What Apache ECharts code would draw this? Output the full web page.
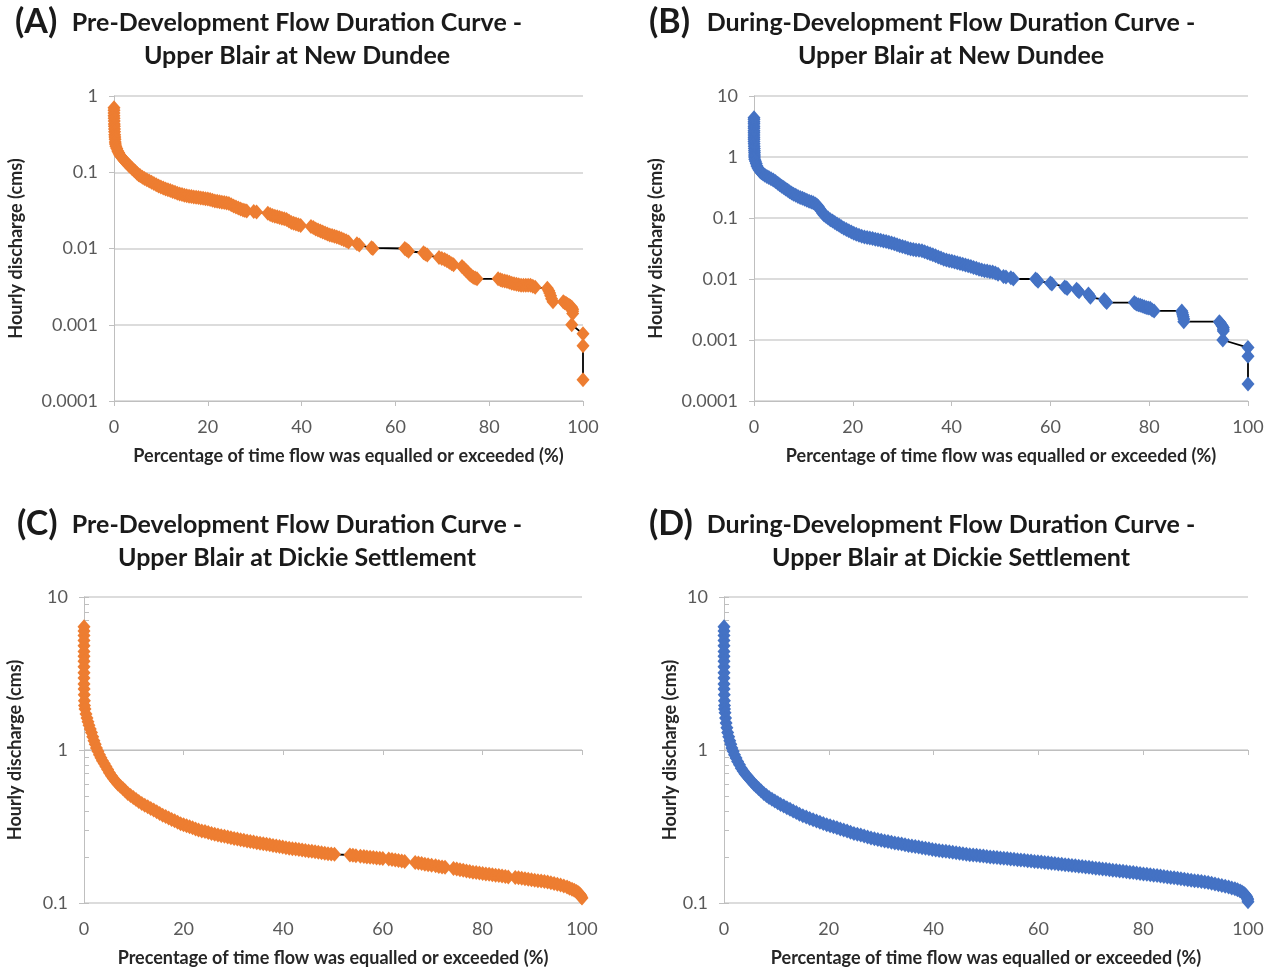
<!DOCTYPE html>
<html><head><meta charset="utf-8">
<script src="https://cdn.jsdelivr.net/npm/echarts@6/dist/echarts.min.js"></script>
<style>html,body{margin:0;padding:0;background:#fff}#c{width:1275px;height:968px}</style>
</head><body><div id="c"></div>
<script>
// ---------- DATA ----------
const aX = [0,0,0,0,0.02,0.04,0.06,0.08,0.1,0.12,0.15,0.18,0.22,0.26,0.3,0.4,0.6,0.8,1.0,1.2,1.45,1.7,2.0,2.3,2.6,2.9,3.2,3.5,3.85,4.2,4.55,4.9,5.25,5.6,6.05,6.5,7.0,7.5,8.0,8.5,9.0,9.5,10.0,10.5,11.0,11.5,12.0,12.5,13.0,13.5,14.0,14.5,15.0,15.5,16.0,16.5,17.0,17.5,18.0,18.5,19.0,19.5,20.0,20.5,21.0,21.5,22.0,22.5,23.0,23.5,24.0,24.5,25.0,25.5,26.0,26.5,27.0,27.5,27.9,28.3,29.8,30.4,32.8,33.3,33.8,34.3,34.8,35.3,35.8,36.3,36.8,37.3,37.8,38.3,38.8,39.3,39.8,42.0,42.5,43.0,43.5,44.0,44.5,45.0,45.5,46.0,46.5,47.0,47.5,48.0,48.5,49.0,49.5,50.0,51.8,52.3,54.9,55.2,62.0,62.4,62.8,66.0,66.4,66.8,69.3,69.9,70.5,71.0,71.5,72.0,72.4,74.2,74.6,75.0,75.4,75.8,76.2,76.6,77.0,77.4,81.9,82.4,82.8,83.3,83.8,84.3,84.8,85.3,85.8,86.3,86.8,87.3,87.8,88.3,88.8,89.3,89.8,92.4,92.7,92.9,93.1,93.3,93.6,95.8,96.1,96.4,96.7,97.0,97.3,97.6,97.8,97.8,97.8,97.6,100,100,100];
const aY = [0.70,0.65,0.60,0.55,0.51,0.47,0.43,0.40,0.37,0.34,0.31,0.29,0.27,0.25,0.235,0.22,0.205,0.19,0.18,0.17,0.162,0.155,0.147,0.14,0.134,0.128,0.123,0.118,0.112,0.107,0.102,0.097,0.093,0.09,0.086,0.083,0.08,0.077,0.074,0.071,0.0685,0.066,0.064,0.062,0.0605,0.059,0.0575,0.056,0.0545,0.053,0.052,0.051,0.05,0.049,0.0485,0.048,0.0475,0.047,0.0465,0.046,0.0455,0.045,0.0445,0.044,0.043,0.042,0.0415,0.041,0.0405,0.04,0.0395,0.039,0.0375,0.036,0.035,0.034,0.033,0.032,0.0315,0.031,0.0305,0.030,0.029,0.028,0.027,0.0265,0.026,0.0255,0.025,0.0245,0.024,0.023,0.022,0.0215,0.021,0.0205,0.020,0.0195,0.0188,0.018,0.0175,0.017,0.0165,0.016,0.0155,0.015,0.0148,0.0145,0.0141,0.0138,0.0134,0.013,0.0126,0.0122,0.0115,0.0111,0.0102,0.010,0.010,0.0096,0.0092,0.0088,0.0085,0.0082,0.0076,0.0074,0.0072,0.0069,0.0066,0.0063,0.0061,0.0058,0.0055,0.0052,0.0049,0.0046,0.0044,0.0042,0.0041,0.0040,0.0040,0.0039,0.0038,0.00375,0.0037,0.0036,0.0035,0.00345,0.0034,0.00335,0.0033,0.0033,0.0033,0.0033,0.0033,0.0032,0.0031,0.0030,0.0028,0.0026,0.0024,0.0022,0.0020,0.0020,0.00195,0.0019,0.00185,0.0018,0.00175,0.0017,0.0016,0.0015,0.0014,0.0010,0.00076,0.00053,0.00019];

const bX = [0,0,0,0,0,0,0,0,0,0,0,0,0.02,0.04,0.06,0.08,0.1,0.1,0.1,0.15,0.3,0.45,0.6,0.8,1.0,1.25,1.5,1.85,2.2,2.6,3.0,3.45,3.9,4.35,4.8,5.2,5.6,6.0,6.4,6.8,7.2,7.6,8.0,8.45,8.9,9.35,9.8,10.25,10.7,11.15,11.6,12.0,12.4,12.7,13.0,13.3,13.6,13.9,14.2,14.6,15.0,15.45,15.9,16.35,16.8,17.25,17.7,18.2,18.7,19.2,19.7,20.2,20.7,21.25,21.8,22.35,22.9,23.45,24.0,24.55,25.1,25.65,26.2,26.75,27.3,27.85,28.4,28.95,29.5,30.05,30.6,31.15,31.7,32.25,32.8,33.4,34.0,34.55,35.1,35.65,36.2,36.75,37.3,37.85,38.4,38.95,39.5,40.05,40.6,41.15,41.7,42.25,42.8,43.35,43.9,44.45,45.0,45.55,46.1,46.65,47.2,47.75,48.3,48.85,49.4,50.5,51.0,52.0,52.5,57.0,57.3,57.5,60.0,60.3,62.9,63.2,63.4,65.3,65.55,65.8,67.7,67.9,68.1,70.9,71.15,71.4,77.0,77.4,77.8,78.2,78.6,79.0,79.4,79.8,80.2,80.6,81.0,86.6,86.7,86.8,86.9,87.0,87.0,94.2,94.4,94.6,94.8,95.0,95.0,95.0,94.9,100,100,100];
const bY = [4.4,4.1,3.8,3.5,3.2,2.95,2.7,2.5,2.3,2.1,1.95,1.8,1.65,1.5,1.38,1.27,1.17,1.08,1.0,0.92,0.85,0.78,0.71,0.66,0.62,0.58,0.55,0.525,0.5,0.48,0.46,0.44,0.42,0.395,0.37,0.35,0.33,0.315,0.3,0.285,0.27,0.257,0.245,0.235,0.225,0.217,0.21,0.202,0.195,0.189,0.183,0.177,0.17,0.163,0.155,0.142,0.13,0.12,0.112,0.106,0.1,0.094,0.089,0.084,0.08,0.076,0.072,0.068,0.065,0.062,0.059,0.0565,0.054,0.052,0.05,0.049,0.048,0.047,0.046,0.045,0.044,0.043,0.042,0.041,0.04,0.039,0.038,0.0365,0.035,0.034,0.033,0.032,0.031,0.0305,0.03,0.0295,0.029,0.028,0.027,0.026,0.025,0.024,0.023,0.022,0.021,0.0205,0.02,0.0195,0.019,0.0185,0.018,0.0175,0.017,0.0165,0.016,0.0155,0.015,0.0145,0.014,0.0137,0.0135,0.0132,0.013,0.0125,0.012,0.011,0.0108,0.0105,0.010,0.010,0.0096,0.0092,0.0086,0.0083,0.0074,0.0072,0.0070,0.0068,0.0065,0.0062,0.0057,0.0053,0.0050,0.0046,0.0043,0.0041,0.0041,0.0039,0.0038,0.0037,0.0036,0.0035,0.0034,0.00335,0.0033,0.0031,0.0030,0.0030,0.0028,0.0026,0.0024,0.0022,0.0020,0.0020,0.0019,0.0018,0.0017,0.0016,0.0015,0.0014,0.0010,0.00075,0.00054,0.00019];

const cX = [0,0,0,0,0,0,0,0,0,0,0,0,0.02,0.05,0.08,0.1,0.2,0.4,0.6,0.8,1.0,1.25,1.5,1.75,2.0,2.25,2.5,2.8,3.1,3.4,3.7,4.05,4.4,4.75,5.1,5.5,5.9,6.35,6.8,7.3,7.8,8.3,8.8,9.35,9.9,10.45,11.0,11.6,12.2,12.8,13.4,14.0,14.6,15.2,15.8,16.4,17.0,17.6,18.2,18.8,19.4,20.0,20.6,21.2,21.8,22.4,23.0,23.65,24.3,24.95,25.6,26.25,26.9,27.55,28.2,28.85,29.5,30.15,30.8,31.45,32.1,32.75,33.4,34.05,34.7,35.35,36.0,36.65,37.3,37.95,38.6,39.25,39.9,40.55,41.2,41.85,42.5,43.15,43.8,44.45,45.1,45.75,46.4,47.05,47.7,48.35,49.0,49.65,50.3,53.4,54.0,54.6,55.5,56.2,56.8,57.45,58.1,58.75,59.4,60.0,61.2,61.85,62.5,63.15,63.8,64.4,66.5,67.15,67.8,68.45,69.1,69.8,70.6,71.25,71.9,72.5,74.2,74.85,75.5,76.15,76.8,77.45,78.1,78.75,79.4,80.05,80.7,81.35,82.0,82.65,83.3,83.95,84.6,85.2,86.6,87.25,87.9,88.55,89.2,89.85,90.5,91.15,91.8,92.45,93.1,93.75,94.4,95.05,95.7,96.35,97.0,97.5,98.0,98.45,98.9,99.2,99.5,99.7,99.8,99.9,100];
const cY = [6.4,6.0,5.6,5.2,4.8,4.4,4.1,3.8,3.5,3.2,2.95,2.7,2.5,2.3,2.1,1.95,1.85,1.72,1.62,1.53,1.45,1.37,1.3,1.22,1.15,1.09,1.03,0.98,0.93,0.89,0.85,0.815,0.78,0.745,0.71,0.68,0.65,0.625,0.60,0.58,0.56,0.54,0.52,0.505,0.49,0.475,0.46,0.447,0.435,0.425,0.415,0.405,0.395,0.385,0.375,0.367,0.36,0.352,0.345,0.337,0.33,0.325,0.32,0.315,0.31,0.305,0.30,0.296,0.293,0.289,0.285,0.281,0.278,0.275,0.273,0.27,0.267,0.264,0.262,0.259,0.257,0.254,0.252,0.25,0.248,0.246,0.244,0.242,0.240,0.238,0.236,0.234,0.232,0.230,0.228,0.2265,0.225,0.2235,0.222,0.2205,0.219,0.2175,0.216,0.2145,0.213,0.2115,0.210,0.209,0.208,0.206,0.205,0.204,0.202,0.201,0.200,0.199,0.198,0.197,0.196,0.195,0.194,0.1925,0.191,0.1895,0.188,0.187,0.184,0.1825,0.181,0.1795,0.178,0.1765,0.175,0.1735,0.172,0.171,0.168,0.1665,0.165,0.1635,0.162,0.1605,0.159,0.158,0.157,0.156,0.155,0.154,0.153,0.152,0.151,0.150,0.149,0.148,0.147,0.146,0.145,0.144,0.143,0.142,0.141,0.140,0.139,0.138,0.137,0.1355,0.134,0.1325,0.131,0.129,0.127,0.125,0.123,0.121,0.119,0.117,0.115,0.113,0.111,0.109,0.108];

const dX = [0,0,0,0,0,0,0,0,0,0,0,0,0.02,0.05,0.08,0.1,0.1,0.2,0.3,0.4,0.55,0.7,0.9,1.1,1.3,1.5,1.75,2.0,2.3,2.6,2.95,3.3,3.65,4.0,4.4,4.8,5.25,5.7,6.15,6.6,7.1,7.6,8.1,8.6,9.15,9.7,10.25,10.8,11.4,12.0,12.6,13.2,13.8,14.4,15.05,15.7,16.35,17.0,17.65,18.3,18.95,19.6,20.25,20.9,21.55,22.2,22.85,23.5,24.15,24.8,25.45,26.1,26.75,27.4,28.05,28.7,29.35,30.0,30.65,31.3,31.95,32.6,33.25,33.9,34.55,35.2,35.85,36.5,37.15,37.8,38.45,39.1,39.75,40.4,41.05,41.7,42.35,43.0,43.65,44.3,44.95,45.6,46.25,46.9,47.55,48.2,48.85,49.5,50.15,50.8,51.45,52.1,52.75,53.4,54.05,54.7,55.35,56.0,56.65,57.3,57.95,58.6,59.25,59.9,60.55,61.2,61.85,62.5,63.15,63.8,64.45,65.1,65.75,66.4,67.05,67.7,68.35,69.0,69.65,70.3,70.95,71.6,72.25,72.9,73.55,74.2,74.85,75.5,76.15,76.8,77.45,78.1,78.75,79.4,80.05,80.7,81.35,82.0,82.65,83.3,83.95,84.6,85.25,85.9,86.55,87.2,87.85,88.5,89.15,89.8,90.45,91.1,91.75,92.4,93.05,93.7,94.35,95.0,95.65,96.3,96.9,97.5,98.0,98.5,98.85,99.2,99.4,99.6,99.75,99.9,99.95,100];
const dY = [6.4,6.0,5.6,5.2,4.8,4.4,4.1,3.8,3.5,3.2,2.95,2.7,2.5,2.3,2.1,1.95,1.85,1.75,1.62,1.5,1.4,1.3,1.22,1.15,1.09,1.03,0.98,0.93,0.885,0.84,0.80,0.76,0.73,0.70,0.675,0.65,0.625,0.60,0.58,0.56,0.54,0.52,0.505,0.49,0.477,0.465,0.452,0.44,0.43,0.42,0.41,0.40,0.39,0.38,0.372,0.365,0.357,0.35,0.343,0.337,0.331,0.325,0.32,0.315,0.31,0.305,0.30,0.295,0.29,0.285,0.281,0.278,0.274,0.27,0.266,0.263,0.26,0.257,0.2545,0.252,0.2495,0.247,0.245,0.243,0.2405,0.238,0.236,0.234,0.232,0.23,0.228,0.226,0.224,0.222,0.2205,0.219,0.2175,0.216,0.2145,0.213,0.2115,0.21,0.2085,0.207,0.206,0.205,0.204,0.203,0.2015,0.2,0.199,0.198,0.197,0.196,0.195,0.194,0.193,0.192,0.191,0.19,0.189,0.188,0.187,0.186,0.185,0.184,0.183,0.182,0.181,0.18,0.179,0.178,0.177,0.176,0.175,0.174,0.173,0.172,0.171,0.17,0.169,0.168,0.167,0.166,0.165,0.164,0.163,0.162,0.161,0.16,0.159,0.158,0.157,0.156,0.155,0.154,0.153,0.152,0.151,0.15,0.149,0.148,0.147,0.146,0.145,0.144,0.143,0.142,0.141,0.14,0.139,0.138,0.137,0.136,0.1345,0.133,0.1315,0.13,0.1285,0.127,0.1255,0.124,0.122,0.12,0.118,0.116,0.114,0.112,0.11,0.107,0.105,0.102];

const minorTickValuesCD = [0.1,0.2,0.3,0.4,0.5,0.6,0.7,0.8,0.9,1,2,3,4,5,6,7,8,9,10];

const titlesLine1 = ['Pre-Development Flow Duration Curve -','During-Development Flow Duration Curve -','Pre-Development Flow Duration Curve -','During-Development Flow Duration Curve -'];
const titlesLine2 = ['Upper Blair at New Dundee','Upper Blair at New Dundee','Upper Blair at Dickie Settlement','Upper Blair at Dickie Settlement'];
const panelTags = ['(A)','(B)','(C)','(D)'];
const xNames = ['Percentage of time flow was equalled or exceeded (%)','Percentage of time flow was equalled or exceeded (%)','Precentage of time flow was equalled or exceeded (%)','Percentage of time flow was equalled or exceeded (%)'];
const yName = 'Hourly discharge (cms)';

// ---------- CHART ----------
const FONT = 'Lato, "Open Sans", sans-serif';
const ORANGE = '#ED7D31', BLUE = '#4472C4';
const GRAY = '#BFBFBF', GRID = '#D0D0D0', LABEL = '#595959', DARK = '#1a1a1a';

const grids = [
  {left:114, top:96, width:469, height:305},
  {left:754, top:96, width:494, height:305},
  {left:84, top:597, width:498, height:306},
  {left:724, top:597, width:524, height:306}
];
const yRanges = [[0.0001,1],[0.0001,10],[0.1,10],[0.1,10]];
const yNameGaps = [89, 89, 60, 41];
const xs = [aX,bX,cX,dX], ys = [aY,bY,cY,dY];
const colors = [ORANGE, BLUE, ORANGE, BLUE];

function fmtLog(v){
  const p = Math.round(Math.log10(v));
  return p >= 0 ? String(Math.pow(10,p)) : '0.' + '0'.repeat(-p-1) + '1';
}

const xAxis = grids.map((g,i)=>({
  gridIndex:i, type:'value', min:0, max:100, interval:20,
  axisLine:{show:true, lineStyle:{color:GRAY, width:1}},
  axisTick:{show:true, length:5, lineStyle:{color:GRAY}},
  axisLabel:{color:LABEL, fontSize:18, fontFamily:FONT, margin:17},
  splitLine:{show:false},
  name:xNames[i], nameLocation:'middle', nameGap:46,
  nameTextStyle:{fontFamily:FONT, fontWeight:'bold', fontSize:18, color:'#262626'}
}));

const yAxis = grids.map((g,i)=>({
  gridIndex:i, type:'log', logBase:10, min:yRanges[i][0], max:yRanges[i][1], interval:1,
  axisLine:{show:true, lineStyle:{color:GRAY, width:1}},
  axisTick:{show:true, length:5, lineStyle:{color:GRAY}},
  axisLabel:{color:LABEL, fontSize:18, fontFamily:FONT, margin:16, formatter:fmtLog},
  splitLine:{show:true, lineStyle:{color:GRID, width:1.5}},
  minorTick:{show:false},
  name:yName, nameLocation:'middle', nameGap:yNameGaps[i],
  nameTextStyle:{fontFamily:FONT, fontWeight:'bold', fontSize:18, color:'#262626'}
}));
// hidden helper axes carrying the log minor ticks (inside) for panels C and D
[2,3].forEach(i=>{
  yAxis.push({
    gridIndex:i, type:'value', position:'left', offset:0, min:-1, max:1,
    axisLine:{show:false}, axisLabel:{show:false}, splitLine:{show:false},
    axisTick:{show:true, inside:true, length:5, lineStyle:{color:GRAY}, customValues: minorTickValuesCD.map(v=>Math.log10(v))}
  });
});

const series = grids.map((g,i)=>({
  type:'line', xAxisIndex:i, yAxisIndex:i,
  data: xs[i].map((x,k)=>[x, ys[i][k]]),
  symbol:'diamond', symbolSize:[13,15], showAllSymbol:true,
  itemStyle:{color:colors[i], borderWidth:0},
  lineStyle:{color:'#000', width:1.8},
  emphasis:{disabled:true}, animation:false
}));

const titleCenters = [[297,23,56],[951,23,56],[297,525,558],[951,525,558]];
const tagPos = [[15,22],[649,22],[17,524],[649,524]];
const graphic = [];
for (let i=0;i<4;i++){
  const [cx,y1,y2] = titleCenters[i];
  graphic.push({type:'text', x:tagPos[i][0], y:tagPos[i][1], style:{text:panelTags[i], font:'bold 34px '+FONT, fill:DARK, verticalAlign:'middle'}});
  graphic.push({type:'text', x:cx, y:y1, style:{text:titlesLine1[i], font:'bold 25px '+FONT, fill:DARK, align:'center', verticalAlign:'middle'}});
  graphic.push({type:'text', x:cx, y:y2, style:{text:titlesLine2[i], font:'bold 25px '+FONT, fill:DARK, align:'center', verticalAlign:'middle'}});
}

const chart = echarts.init(document.getElementById('c'), null, {renderer:'canvas'});
chart.setOption({
  backgroundColor:'#fff', animation:false,
  grid:grids, xAxis, yAxis, series, graphic
});
</script></body></html>
